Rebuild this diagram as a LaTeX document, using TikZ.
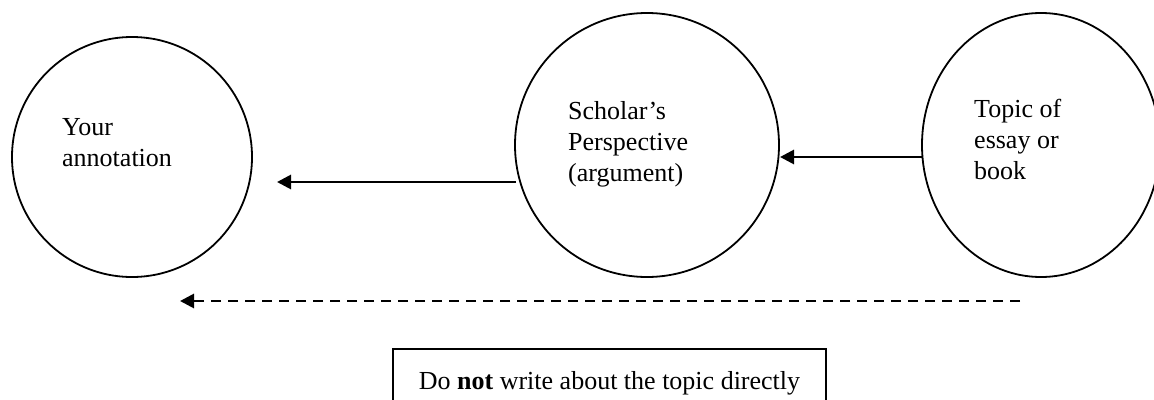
\documentclass[tikz,border=0pt]{standalone}
\usepackage{fontspec}
\setmainfont{Liberation Serif}
\usetikzlibrary{arrows.meta,shapes.geometric}
\tikzset{
  bubble/.style={draw, line width=1.8pt, ellipse, inner sep=0pt},
  lbl/.style={anchor=north west, align=left, inner sep=0pt, font=\fontsize{26}{31}\selectfont},
  conn/.style={line width=2.8pt, -{Triangle[length=14pt,width=14pt]}},
  dconn/.style={conn, dash pattern=on 10pt off 7pt},
  notebox/.style={draw, line width=1.5pt, inner sep=0pt, font=\fontsize{26}{31}\selectfont}
}
\begin{document}
\begin{tikzpicture}[x=1pt,y=-1pt]
\useasboundingbox (0,0) rectangle (1154,399);
\clip (0,0) rectangle (1154,399);
% circles
\node[bubble, minimum width=240pt, minimum height=240pt] (c1) at (132,157) {};
\node[bubble, minimum width=264pt, minimum height=264pt] (c2) at (647,145) {};
\node[bubble, minimum width=238pt, minimum height=264pt] (c3) at (1041,145) {};
% labels
\node[lbl] (t1) at (62,118) {Your\\annotation};
\node[lbl] (t2) at (568,101) {Scholar’s\\Perspective\\(argument)};
\node[lbl] (t3) at (974,99) {Topic of\\essay or\\book};
% connector end points
\coordinate (a1s) at (516,182);
\coordinate (a1e) at (277,182);
\coordinate (a2s) at (923,157);
\coordinate (a2e) at (780,157);
\coordinate (d1s) at (1020,301);
\coordinate (d1e) at (180,301);
\draw[conn] (a1s) -- (a1e);
\draw[conn] (a2s) -- (a2e);
\draw[dconn] (d1s) -- (d1e);
% note box
\node[notebox, minimum width=433pt, minimum height=68pt] (note) at (609.5,383) {Do \textbf{not} write about the topic directly};
\end{tikzpicture}
\end{document}
